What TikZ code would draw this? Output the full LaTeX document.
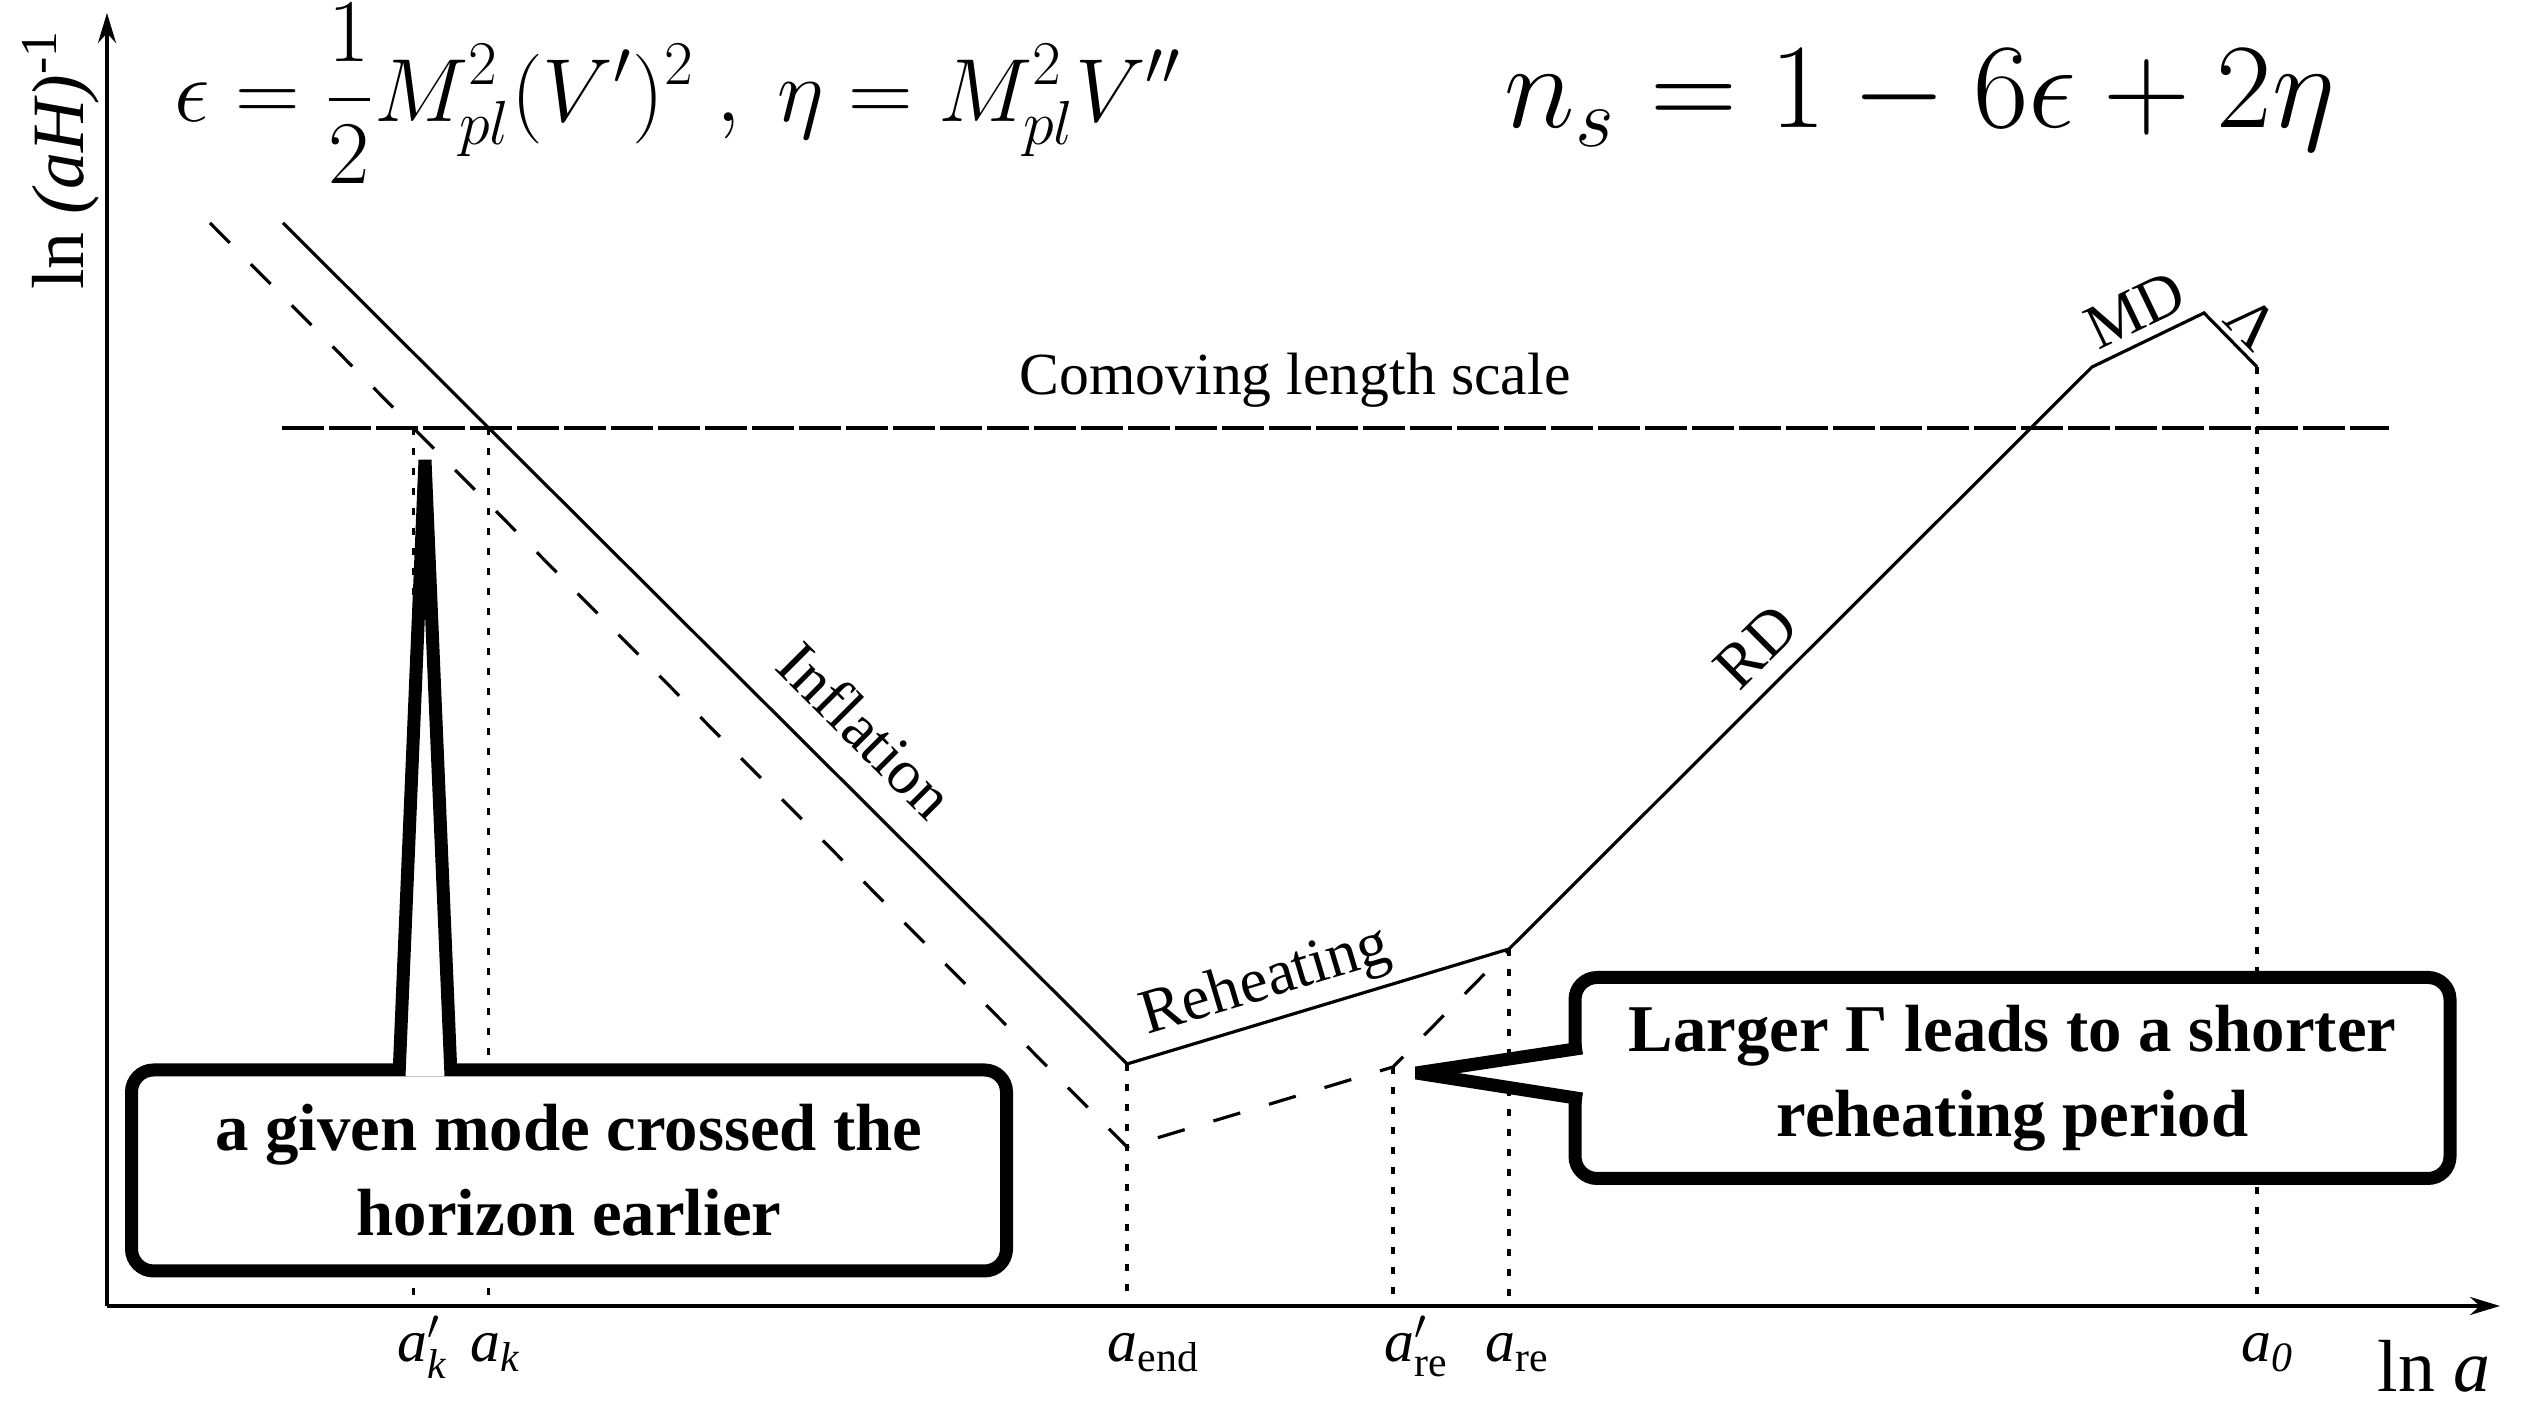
\documentclass[tikz,border=0pt]{standalone}
\usepackage[no-math]{fontspec}
\setmainfont{Liberation Serif}
\usepackage{amsmath}
\usetikzlibrary{arrows.meta}

\begin{document}
\begin{tikzpicture}[
    curve/.style={line width=0.9pt},
    axis/.style={line width=1pt, -{Stealth[length=0.30cm, width=0.18cm]}},
    guide/.style={line width=0.9pt, dash pattern=on 0.07cm off 0.13cm},
    phase/.style={inner sep=0pt, font=\fontsize{18}{20}\selectfont},
    tick/.style={anchor=base west, inner sep=0pt, font=\fontsize{17}{20}\selectfont},
    note/.style={draw, fill=white, rounded corners=0.22cm, line width=0.13cm, outer sep=0pt,
                 minimum width=8.75cm, minimum height=2.01cm, align=center,
                 font=\fontsize{19}{24.2}\selectfont\bfseries},
    leg/.style={line width=0.13cm, line join=bevel}
]
    \useasboundingbox (0,0) rectangle (25.23,14.04);

    % axes
    \coordinate (O) at (1.07,0.98);
    \coordinate (ytop) at (1.07,13.91);
    \coordinate (xend) at (25.00,0.98);
    \draw[axis] (O) -- (ytop);
    \draw[axis] (O) -- (xend);
    \node[rotate=90, anchor=base, inner sep=0pt, font=\fontsize{21}{24}\selectfont] (ylab) at (0.83,12.44) {ln \textit{(aH)}\textsuperscript{-1}};
    \node[anchor=base west, inner sep=0pt, font=\fontsize{21}{24}\selectfont] (xlab) at (23.77,0.12) {ln \textit{a}};

    % history of the comoving Hubble radius
    \coordinate (s0) at (2.83,11.81);
    \coordinate (d0) at (2.10,11.81);
    \coordinate (aend) at (11.27,3.40);
    \coordinate (aendd) at (11.27,2.57);
    \coordinate (ared) at (13.93,3.37);
    \coordinate (are) at (15.09,4.55);
    \coordinate (md) at (20.92,10.37);
    \coordinate (peak) at (22.04,10.91);
    \coordinate (a0) at (22.57,10.37);
    \coordinate (cl) at (2.82,9.76);
    \coordinate (cr) at (23.89,9.76);
    \coordinate (ak) at (intersection of s0--aend and cl--cr);
    \coordinate (akp) at (intersection of d0--aendd and cl--cr);

    \draw[curve, dash pattern=on 0.42cm off 0.05cm] (cl) -- (cr);
    \node[phase, font=\fontsize{17}{20}\selectfont] (scale) at (12.95,10.24) {Comoving length scale};

    \foreach \p in {ak,akp,aend,ared,are,a0}
        \draw[guide] (\p) -- (\p |- O);

    \draw[curve] (s0) -- (aend) -- (are) -- (md) -- (peak) -- (a0);
    \draw[curve, dash pattern=on 0.28cm off 0.30cm] (d0) -- (aendd) -- (ared) -- (are);

    \node[phase, rotate=-45] (infl) at (8.66,6.74) {Inflation};
    \node[phase, rotate=16.7] (reh) at (12.66,4.21) {Reheating};
    \node[phase, rotate=45] (rd) at (17.56,7.57) {RD};
    \node[phase, rotate=25.7] (mdlab) at (21.35,10.94) {MD};
    \node[phase, rotate=-45] (lam) at (22.52,10.81) {Λ};

    % ticks
    \node[tick] (tkp) at (3.97,0.42) {\textit{a}${}'_{\text{\itshape k}}$};
    \node[tick] (tk) at (4.70,0.42) {\textit{a}$_{\text{\itshape k}}$};
    \node[tick] (tend) at (11.07,0.42) {\textit{a}$_{\text{end}}$};
    \node[tick] (trep) at (13.84,0.42) {\textit{a}${}'_{\text{re}}$};
    \node[tick] (tre) at (14.85,0.42) {\textit{a}$_{\text{re}}$};
    \node[tick] (tnow) at (22.41,0.42) {\textit{a}$_{\text{\itshape 0}}$};

    % callouts
    \node[note] (early) at (5.69,2.335) {a given mode crossed the\\horizon earlier};
    \coordinate (kmode) at (4.25,9.44);
    \fill[white] (3.99,3.275) -- (kmode) -- (4.51,3.275) -- cycle;
    \draw[leg] (3.99,3.28) -- (kmode) -- (4.51,3.28);

    \node[note] (short) at (20.125,3.26) {Larger Γ leads to a shorter\\reheating period};
    \coordinate (gamma) at (14.16,3.31);
    \fill[white] (15.83,3.56) -- (gamma) -- (15.83,3.05) -- cycle;
    \draw[leg] (15.82,3.56) -- (gamma) -- (15.82,3.05);

    % formulas
    \node[anchor=base west, inner sep=0pt, scale=1.025, transform shape, font=\fontsize{24.2}{28}\selectfont] (slowroll) at (1.74,12.82)
        {$\displaystyle \epsilon=\frac{1}{2}M_{pl}^2(V')^2\ ,\ \eta=M_{pl}^2V''$};
    \node[anchor=base west, inner sep=0pt, scale=1.38, transform shape, font=\fontsize{24.2}{28}\selectfont] (tilt) at (15.04,12.76)
        {$n_s=1-6\epsilon+2\eta$};
\end{tikzpicture}
\end{document}
